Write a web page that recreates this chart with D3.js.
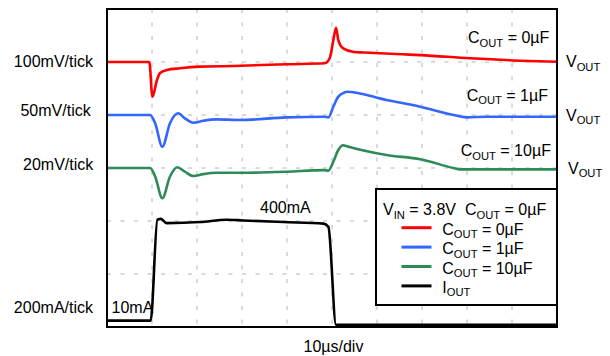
<!DOCTYPE html>
<html><head><meta charset="utf-8">
<script src="https://cdn.jsdelivr.net/npm/d3@7"></script>
<style>body{margin:0;background:#fff}svg{display:block}text{font-family:"Liberation Sans",Arial,sans-serif;fill:#000}</style>
</head><body>
<script>
// time in µs, value in mV (voltage traces) or mA (current)
const redT   = [0, 9.4, 10.1, 11.1, 11.8, 13.3, 16.2, 20.7, 28, 39.9, 48.4, 49.5, 50.3, 50.9, 51.4, 52.5, 54.9, 57.1, 65.6, 69.6, 80.7, 91.8, 100];
const redV   = [0, 0, -65.5, -34, -20.8, -15.1, -11.9, -8.8, -7.5, -4.3, -2.5, 7.5, 41.5, 64.7, 41.5, 25.8, 19, 18, 14.5, 13, 7, 2.5, 0.5];
const blueT  = [0, 9.6, 10.7, 12.3, 14, 15.8, 17.3, 19.2, 21.4, 24.4, 29.6, 39.9, 48.2, 49.2, 50.3, 51.4, 52.9, 53.3, 62.1, 69.6, 77, 79.9, 84.4, 100];
const blueV  = [0, 0, -7.8, -29.9, -7.8, 1.6, -3.1, -7.3, -5.4, -4.1, -4.7, -2.2, -1.6, -2.2, 7.8, 17.3, 21.4, 21.9, 14.1, 7.8, 0, -2.2, -1.6, -1.6];
const greenT = [0, 9.6, 10.7, 12.3, 14, 15.6, 17.3, 19.2, 21.4, 24.4, 29.6, 39.9, 48.2, 49.2, 50.3, 51.4, 52.5, 52.9, 62.1, 69.6, 77, 78.4, 100];
const greenV = [0, 0, -3.2, -11.4, -3.2, 0.3, -1.4, -3, -2.3, -1.8, -1.8, -1.4, -0.8, -1, 2.4, 6.8, 8.6, 8.4, 4.9, 3.3, 0, -0.5, -0.5];
const ioutT  = [0, 9.7, 11.2, 12, 13.2, 20.7, 26.6, 30.3, 39.2, 48.1, 49.2, 50.9, 100];
const ioutI  = [16, 16, 397, 400, 384, 388, 397, 394, 388, 382, 370, 0, 0];

const traceNames  = ["COUT = 0µF", "COUT = 1µF", "COUT = 10µF", "IOUT"];
const traceColors = ["#ff0000", "#3366ff", "#2e8b57", "#000000"];
const perTick     = [100, 50, 20, 200];       // units per division
const baseDiv     = [5, 4, 3, 0.04];          // division of trace zero
const scaleLabels = ["100mV/tick", "50mV/tick", "20mV/tick", "200mA/tick"];
const xDivs = d3.range(0, 101, 10);
const yDivs = d3.range(0, 7, 1);

const W = 610, H = 356;
const svg = d3.select("body").append("svg").attr("width", W).attr("height", H);
const x = d3.scaleLinear().domain([0, 100]).range([107, 557]);
const y = d3.scaleLinear().domain([0, 6]).range([327, 9]);

// grid
svg.append("g").selectAll("line").data(xDivs.slice(1, -1)).join("line")
  .attr("x1", d => x(d)).attr("x2", d => x(d)).attr("y1", y(6)).attr("y2", y(0))
  .attr("stroke", "#b4b4b4").attr("stroke-width", 1).attr("stroke-dasharray", "4,9.5");
svg.append("g").selectAll("line").data(yDivs.slice(1, -1)).join("line")
  .attr("y1", d => y(d)).attr("y2", d => y(d)).attr("x1", x(0)).attr("x2", x(100))
  .attr("stroke", "#b4b4b4").attr("stroke-width", 1).attr("stroke-dasharray", "4,9.5");

// traces
const series = [[redT, redV], [blueT, blueV], [greenT, greenV], [ioutT, ioutI]];
const line = d3.line().x(d => x(d[0])).y(d => y(d[1])).curve(d3.curveMonotoneX);
series.forEach(([ts, vs], i) => {
  const pts = ts.map((t, k) => [t, baseDiv[i] + vs[k] / perTick[i]]);
  svg.append("path").datum(pts).attr("d", line).attr("fill", "none")
    .attr("stroke", traceColors[i]).attr("stroke-width", 2.6).attr("stroke-linejoin", "round");
});

// frame
svg.append("rect").attr("x", x(0)).attr("y", y(6)).attr("width", x(100) - x(0)).attr("height", y(0) - y(6))
  .attr("fill", "none").attr("stroke", "#000").attr("stroke-width", 2);

// rich text with subscripts: "COUT" -> C + subscript OUT, etc.
function rich(g, str, xx, yy, size, anchor) {
  const t = g.append("text").attr("x", xx).attr("y", yy).attr("font-size", size)
    .attr("xml:space", "preserve");
  if (anchor) t.attr("text-anchor", anchor);
  const re = /(C|V|I)(OUT|IN)/g;
  const shift = size * 0.22;
  let last = 0, m, pending = 0;
  const add = (s, sub) => {
    const sp = t.append("tspan").text(s);
    if (sub) { sp.attr("font-size", size * 0.7).attr("dy", shift); pending = -shift; }
    else if (pending) { sp.attr("dy", pending); pending = 0; }
  };
  while ((m = re.exec(str)) !== null) {
    add(str.slice(last, m.index) + m[1], false);
    add(m[2], true);
    last = m.index + m[0].length;
  }
  if (last < str.length) add(str.slice(last), false);
  return t;
}

const fs = 16;
// left scale labels
const leftX = [93, 90.7, 93.3, 93];
const leftY = [67, 116, 169.5, 313];
scaleLabels.forEach((s, i) => svg.append("text").attr("x", leftX[i]).attr("y", leftY[i])
  .attr("font-size", fs).attr("text-anchor", "end").text(s));

// right labels
const capX = [468, 466.7, 460.7], capY = [43, 100.5, 156];
const voutX = [566, 566, 568], voutY = [67, 120.5, 173.5];
[0, 1, 2].forEach(i => {
  rich(svg, traceNames[i], capX[i], capY[i], fs);
  rich(svg, "VOUT", voutX[i], voutY[i], fs);
});

svg.append("text").attr("x", 260).attr("y", 213).attr("font-size", fs).text("400mA");
svg.append("text").attr("x", 111.5).attr("y", 313).attr("font-size", fs).text("10mA");
svg.append("text").attr("x", 303.5).attr("y", 352).attr("font-size", fs).text("10µs/div");

// legend
const lg = svg.append("g");
lg.append("rect").attr("x", 376).attr("y", 189).attr("width", 181).attr("height", 116)
  .attr("fill", "#fff").attr("stroke", "#000").attr("stroke-width", 2);
rich(lg, "VIN = 3.8V  COUT = 0µF", 383, 215, fs);
traceNames.forEach((n, i) => {
  const ly = 227.7 + i * 19.4;
  lg.append("line").attr("x1", 401.5).attr("x2", 431.5).attr("y1", ly).attr("y2", ly)
    .attr("stroke", traceColors[i]).attr("stroke-width", 3);
  rich(lg, n, 442.3, ly + 7, fs);
});
</script>
</body></html>
